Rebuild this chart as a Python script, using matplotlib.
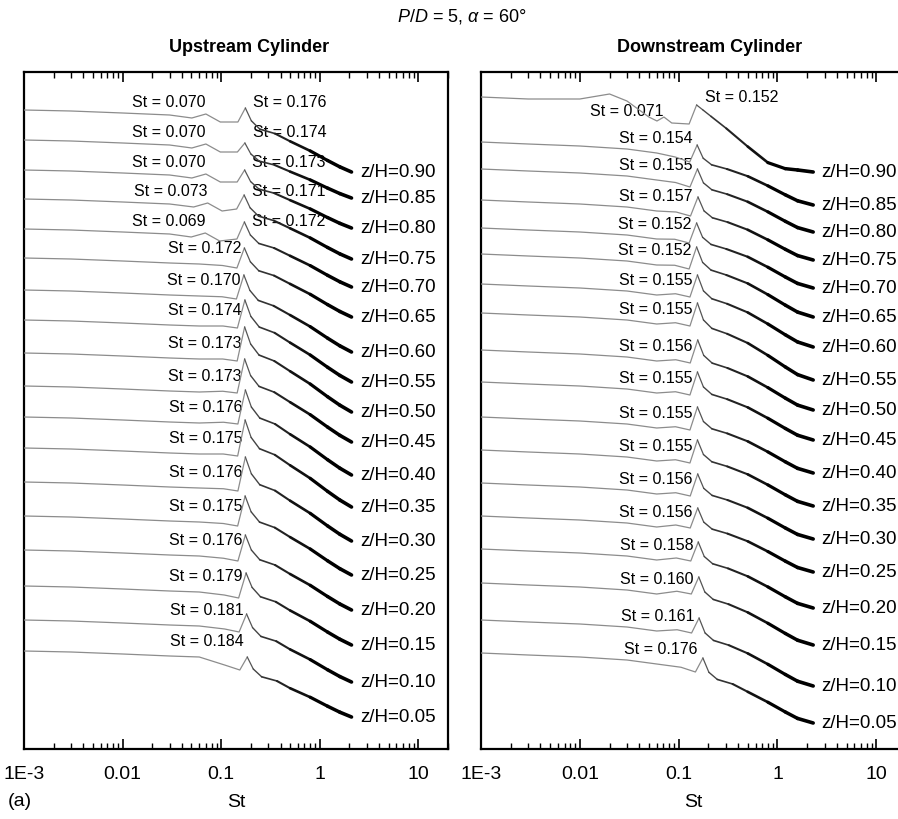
import matplotlib
matplotlib.use("Agg")
import matplotlib.pyplot as plt
from matplotlib.collections import LineCollection

plt.rcParams['font.family'] = ['Liberation Sans', 'DejaVu Sans']
plt.rcParams['mathtext.fontset'] = 'custom'
plt.rcParams['mathtext.it'] = 'Liberation Sans:italic'
plt.rcParams['mathtext.rm'] = 'Liberation Sans'

# heights z/H, top curve first
zh = [0.90, 0.85, 0.80, 0.75, 0.70, 0.65, 0.60, 0.55, 0.50,
      0.45, 0.40, 0.35, 0.30, 0.25, 0.20, 0.15, 0.10, 0.05]

# Upstream cylinder: vortex shedding peaks and stacked spectrum levels
# (levels are vertical offsets, larger = lower on the plot)
up_st = [0.176, 0.174, 0.173, 0.171, 0.172, 0.172, 0.170, 0.174, 0.173,
         0.173, 0.176, 0.175, 0.176, 0.175, 0.176, 0.179, 0.181, 0.184]
up_st_low = [0.070, 0.070, 0.070, 0.073, 0.069]
up_start = [110, 140, 170, 199, 229, 258, 290, 320, 353,
            386, 417, 448, 482, 516, 550, 586, 620, 651]
up_dip = [12, 12, 12, 10, 10, 10, 9, 8, 8, 7, 7, 8, 9, 10, 11, 12, 12, 19]
up_peak = [-2, 3, 0, -4, -7, -10, -15, -20, -26,
           -27, -27, -28, -25, -20, -15, -13, -6, 6]
up_end = [62, 58, 58, 60, 58, 59, 62, 62, 59,
          56, 58, 59, 59, 59, 60, 59, 62, 66]

# Downstream cylinder
dn_st = [0.152, 0.154, 0.155, 0.157, 0.152, 0.152, 0.155, 0.155, 0.156,
         0.155, 0.155, 0.155, 0.156, 0.156, 0.158, 0.160, 0.161, 0.176]
dn_st_low = [0.071]
dn_start = [97, 142, 169, 200, 228, 254, 284, 313, 350,
            382, 417, 450, 483, 516, 549, 583, 620, 653]
dn_dip = [27, 20, 18, 16, 15, 15, 13, 13, 13, 13, 13, 13, 13, 12, 12, 11, 13, 19]
dn_peak = [8, 3, 0, -3, -5, -7, -9, -10, -10,
           -10, -10, -10, -9, -8, -7, -6, -2, 5]
dn_end = [75, 63, 63, 60, 60, 63, 63, 67, 60,
          58, 56, 56, 56, 56, 59, 62, 66, 70]

# broadband part below the shedding peak
flat_st = [0.001, 0.003, 0.01, 0.03, 0.06]
up_flat = [0, 1, 3, 5, 6]
dn_flat = [0, 2, 4, 7, 11]
dn_top_flat_st = [0.001, 0.003, 0.01, 0.02, 0.03, 0.05]
dn_top_flat = [0, 2, 2, -3, 4, 20]

# low-frequency bump (St_low) : position factors and levels
up_low_f = [0.72, 1.0, 1.4]
up_low_lv = [8, 4, 12]
dn_low_f = [0.85, 1.0, 1.2]
dn_low_lv = [24, 20, 26]

# decay above the peak, as fraction of the way from peak level to end level
tail_pos = [1.15, 1.4, 2.0, 0.5, 0.8, 1.2, 1.6]   # first three scale with St peak
up_tail_frac = [0.2, 0.33, 0.4, 0.52, 0.67, 0.82, 0.92, 1.0]
dn_tail_frac = [0.22, 0.33, 0.4, 0.52, 0.68, 0.83, 0.93, 1.0]
dn_top_tail_frac = [0.07, 0.17, 0.35, 0.62, 0.86, 0.95, 0.97, 1.0]
up_st_end = 2.1
dn_st_end = 2.3

xticks = [1e-3, 1e-2, 1e-1, 1, 10]
xticklabels = ['1E-3', '0.01', '0.1', '1', '10']

tail_lw = [0.9, 1.0, 1.2, 1.5, 1.9, 2.3, 2.5, 2.6]
tail_col = ['#555555', '#444444', '#333333', '#222222', '#111111',
            'black', 'black', 'black']


def build_curve(stp, start, dip, peak, end, fst, flv, tail, st_end,
                low=None, low_f=None, low_lv=None):
    xs = list(fst)
    ys = [start + v for v in flv]
    if low is not None:
        xs += [f * low for f in low_f]
        ys += [start + v for v in low_lv]
    else:
        xs.append(0.6 * stp)
        ys.append(start + 0.75 * dip)
    xs += [0.84 * stp, stp]
    ys += [start + dip, start + peak]
    k_peak = len(xs) - 1
    tail_st = [p * stp for p in tail_pos[:3]] + tail_pos[3:] + [st_end]
    for s, f in zip(tail_st, tail):
        xs.append(s)
        ys.append(start + peak + (end - peak) * f)
    return xs, ys, k_peak


def draw_panel(ax, st, st_low, start, dip, peak, end, flat, tail, st_end,
               low_f, low_lv, top=None):
    for i in range(len(zh)):
        low = st_low[i] if i < len(st_low) else None
        fst, flv, tl = flat_st, flat, tail
        if top is not None and i == 0:
            fst, flv, tl = top
        elif low is not None:
            fst, flv = flat_st[:-1], flat[:-1]
        xs, ys, kp = build_curve(st[i], start[i], dip[i], peak[i], end[i],
                                 fst, flv, tl, st_end, low, low_f, low_lv)
        ax.plot(xs[:kp + 1], ys[:kp + 1], color='#8c8c8c', lw=0.9, zorder=3,
                solid_joinstyle='round')
        segs = [[(xs[j], ys[j]), (xs[j + 1], ys[j + 1])]
                for j in range(kp, len(xs) - 1)]
        ax.add_collection(LineCollection(segs, linewidths=tail_lw,
                                         colors=tail_col, capstyle='round',
                                         zorder=4))
        ax.text(st_end * 1.22, ys[-1] + 1, f'z/H={zh[i]:.2f}', fontsize=13.5,
                ha='left', va='center', zorder=6)


fig = plt.figure(figsize=(8.98, 8.19), dpi=100)
ax1 = fig.add_axes([24 / 898, 70 / 819, 424 / 898, 677 / 819])
ax2 = fig.add_axes([481 / 898, 70 / 819, 425 / 898, 677 / 819])

draw_panel(ax1, up_st, up_st_low, up_start, up_dip, up_peak, up_end,
           up_flat, up_tail_frac, up_st_end, up_low_f, up_low_lv)
draw_panel(ax2, dn_st, dn_st_low, dn_start, dn_dip, dn_peak, dn_end,
           dn_flat, dn_tail_frac, dn_st_end, dn_low_f, dn_low_lv,
           top=(dn_top_flat_st, dn_top_flat, dn_top_tail_frac))

# peak labels, upstream
for i, s in enumerate(up_st):
    if i < len(up_st_low):
        ax1.text(up_st_low[i], up_start[i] - 7, f'St = {up_st_low[i]:.3f}',
                 fontsize=11.5, ha='right', va='center', zorder=2)
        ax1.text(s * 1.2, up_start[i] - 7, f'St = {s:.3f}',
                 fontsize=11.5, ha='left', va='center', zorder=2)
    else:
        ax1.text(s * 0.93, up_start[i] - 9, f'St = {s:.3f}',
                 fontsize=11.5, ha='right', va='center', zorder=2)

# peak labels, downstream
for i, s in enumerate(dn_st):
    if i < len(dn_st_low):
        ax2.text(dn_st_low[i], dn_start[i] + 15, f'St = {dn_st_low[i]:.3f}',
                 fontsize=11.5, ha='right', va='center', zorder=2)
        ax2.text(s * 1.22, dn_start[i] + 1, f'St = {s:.3f}',
                 fontsize=11.5, ha='left', va='center', zorder=2)
    else:
        ax2.text(s * 0.89, dn_start[i] - 3, f'St = {s:.3f}',
                 fontsize=11.5, ha='right', va='center', zorder=2)

for ax in (ax1, ax2):
    ax.set_xscale('log')
    ax.set_xlim(1e-3, 20)
    ax.set_ylim(749, 72)
    ax.set_xticks(xticks)
    ax.set_xticklabels(xticklabels)
    ax.set_yticks([])
    ax.tick_params(axis='x', which='both', direction='in', top=True,
                   labelsize=14, pad=12)
    ax.tick_params(axis='x', which='major', length=7, width=1.2)
    ax.tick_params(axis='x', which='minor', length=4, width=1.0)
    for sp in ax.spines.values():
        sp.set_linewidth(1.6)
    ax.set_xlabel('St', fontsize=14, labelpad=8)

fig.text(462 / 898, 1 - 17 / 819, r'$P/D$ = 5, $\alpha$ = 60°', fontsize=13,
         ha='center', va='center')
fig.text(249 / 898, 1 - 47 / 819, 'Upstream Cylinder', fontsize=13,
         weight='bold', ha='center', va='center')
fig.text(710 / 898, 1 - 47 / 819, 'Downstream Cylinder', fontsize=13,
         weight='bold', ha='center', va='center')
fig.text(20 / 898, 1 - 801 / 819, '(a)', fontsize=14, ha='center', va='center')

fig.savefig('out.png', dpi=100)
